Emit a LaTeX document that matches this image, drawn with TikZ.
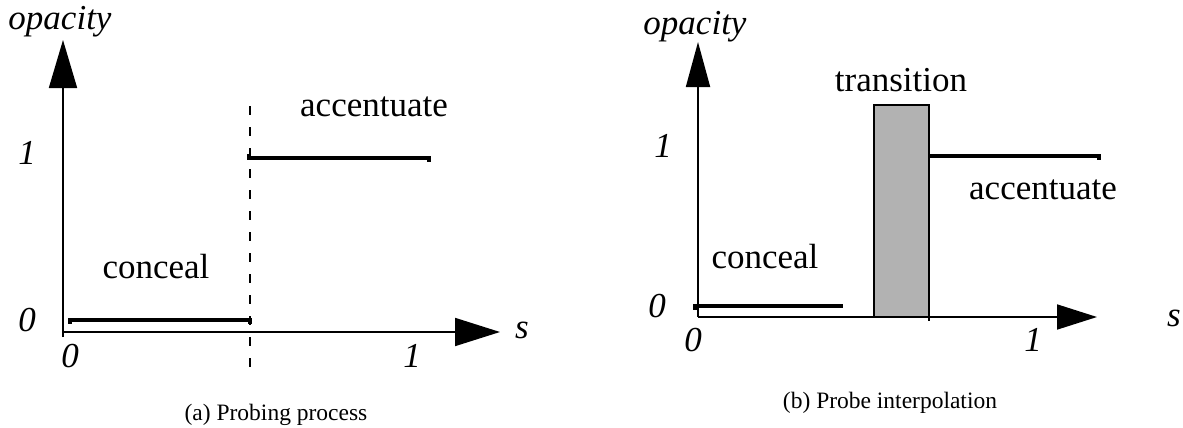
\documentclass[tikz,border=0pt]{standalone}
\usepackage{fontspec}
\setmainfont{Liberation Serif}
\usetikzlibrary{arrows.meta}
\tikzset{
  axis/.style={line width=1.8pt},
  stepline/.style={line width=3.6pt},
  lbl/.style={font=\fontsize{35}{40}\selectfont, inner sep=0pt},
  num/.style={font=\fontsize{35}{40}\selectfont\itshape, inner sep=0pt},
  captext/.style={font=\fontsize{23.5}{28}\selectfont, inner sep=0pt},
  divider/.style={line width=1.8pt, dash pattern=on 9pt off 12pt},
}
\begin{document}
\begin{tikzpicture}[x=1pt,y=-1pt]
\useasboundingbox (0,0) rectangle (1183,428);
% ---------- left plot ----------
\coordinate (LO) at (63,332);
\coordinate (LYtip) at (63,40);
\coordinate (LXtip) at (500,332);
\draw[axis,-{Triangle[length=48pt,width=28pt]}] (63,337) -- (LYtip);
\draw[axis,-{Triangle[length=45pt,width=28pt]}] (LO) -- (LXtip);
\node[num] (lopac) at (60,22) {opacity};
\node[num] (ly1) at (27,153) {1};
\node[num] (ly0) at (27,320) {0};
\node[num] (lx0) at (70,356) {0};
\node[num] (lx1) at (412,356) {1};
\node[num] (ls) at (522,330) {s};
\coordinate (LdTop) at (250,106);
\coordinate (LdBot) at (250,370);
\draw[divider] (LdTop) -- (LdBot);
\draw[stepline] (70,323.5) -- (70,320) -- (250,320) -- (250,323.5);
\draw[stepline] (249,153.5) -- (249,158) -- (429,158) -- (429,161.5);
\node[lbl] (lacc) at (374,107) {accentuate};
\node[lbl] (lcon) at (156,267) {conceal};
\node[captext] (lcap) at (276,415) {(a) Probing process};
% ---------- right plot ----------
\coordinate (RO) at (698,317);
\coordinate (RYtip) at (698,42);
\coordinate (RXtip) at (1097,317);
\draw[axis,-{Triangle[length=45pt,width=24pt]}] (RO) -- (RYtip);
\draw[axis,-{Triangle[length=40pt,width=25pt]}] (RO) -- (RXtip);
\node[num] (ropac) at (695,27) {opacity};
\node[num] (ry1) at (663,146) {1};
\node[num] (ry0) at (657,306) {0};
\node[num] (rx0) at (693,340) {0};
\node[num] (rx1) at (1033,340) {1};
\node[num] (rs) at (1174,318) {s};
\draw[line width=1.8pt, fill=black!30] (874,317) rectangle (929,105);
\draw[line width=1.8pt] (929,317) -- (929,321);
\draw[stepline] (695,309.5) -- (695,306) -- (843,306);
\draw[stepline] (929,156) -- (1099,156) -- (1099,159.5);
\node[lbl] (rtrans) at (901,80) {transition};
\node[lbl] (racc) at (1043,190) {accentuate};
\node[lbl] (rcon) at (765,257) {conceal};
\node[captext] (rcap) at (890,403) {(b) Probe interpolation};
\end{tikzpicture}
\end{document}
